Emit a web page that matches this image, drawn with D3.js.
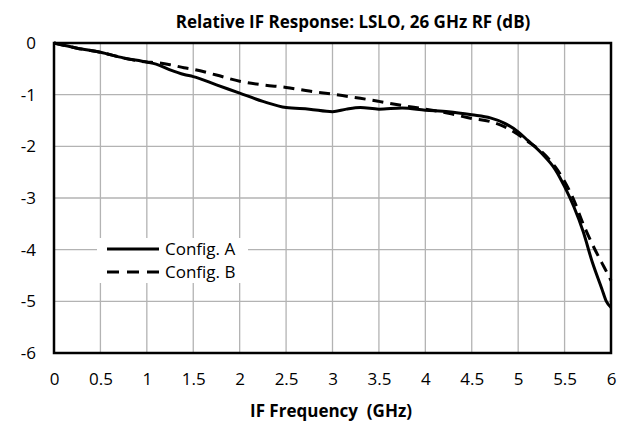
<!DOCTYPE html>
<html><head><meta charset="utf-8">
<script src="https://cdn.jsdelivr.net/npm/d3@7"></script>
<style>
html,body{margin:0;padding:0;background:#fff;}
text{font-family:"Open Sans",sans-serif;fill:#000;}
</style></head>
<body><svg id="c" width="621" height="423"></svg>
<script>
const freq = [0,0.25,0.5,0.75,1.0,1.1,1.25,1.4,1.5,1.75,2.0,2.25,2.5,2.75,3.0,3.15,3.3,3.5,3.75,4.0,4.25,4.5,4.7,4.85,5.0,5.1,5.25,5.4,5.5,5.6,5.7,5.8,5.9,5.95,6.0];
const configA = [0,-0.10,-0.18,-0.29,-0.37,-0.41,-0.52,-0.61,-0.65,-0.81,-0.97,-1.13,-1.25,-1.28,-1.33,-1.28,-1.25,-1.28,-1.26,-1.30,-1.33,-1.39,-1.45,-1.55,-1.72,-1.88,-2.13,-2.45,-2.78,-3.17,-3.65,-4.25,-4.75,-5.0,-5.12];
const configB = [0,-0.10,-0.18,-0.29,-0.37,-0.38,-0.42,-0.48,-0.51,-0.62,-0.74,-0.81,-0.86,-0.93,-0.99,-1.03,-1.07,-1.13,-1.21,-1.28,-1.36,-1.46,-1.52,-1.62,-1.77,-1.90,-2.10,-2.40,-2.68,-3.04,-3.5,-3.9,-4.25,-4.42,-4.6];
const xTicks = [0,0.5,1,1.5,2,2.5,3,3.5,4,4.5,5,5.5,6];
const yTicks = [0,-1,-2,-3,-4,-5,-6];
const seriesNames = ["Config. A","Config. B"];
const titleText = "Relative IF Response: LSLO, 26 GHz RF (dB)";
const xTitle = "IF Frequency  (GHz)";

const svg = d3.select("#c");
const L=54, R=611, T=43, B=353;
const x = d3.scaleLinear().domain([0,6]).range([L,R]);
const y = d3.scaleLinear().domain([-6,0]).range([B,T]);

// grid
svg.append("g").selectAll("line").data(xTicks.filter(d=>d>0&&d<6)).join("line")
  .attr("x1",d=>x(d)).attr("x2",d=>x(d)).attr("y1",T).attr("y2",B)
  .attr("stroke","#b3b3b3").attr("stroke-width",1.3);
svg.append("g").selectAll("line").data(yTicks.filter(d=>d>-6&&d<0)).join("line")
  .attr("x1",L).attr("x2",R).attr("y1",d=>y(d)).attr("y2",d=>y(d))
  .attr("stroke","#b3b3b3").attr("stroke-width",1.3);

const fmt = d => String(d);
const xAxis = svg.append("g").attr("transform",`translate(0,${B})`)
  .call(d3.axisBottom(x).tickValues(xTicks).tickSize(0).tickPadding(20).tickFormat(fmt));
xAxis.select(".domain").remove();
xAxis.selectAll("text").style("font-size","17px").attr("font-family",null);
const yAxis = svg.append("g").attr("transform",`translate(${L},0)`)
  .call(d3.axisLeft(y).tickValues(yTicks).tickSize(0).tickPadding(18).tickFormat(fmt));
yAxis.select(".domain").remove();
yAxis.selectAll("text").style("font-size","17px").attr("font-family",null);

// legend background
svg.append("rect").attr("x",97).attr("y",238).attr("width",151).attr("height",45).attr("fill","#fff");

const line = d3.line().x((d,i)=>x(freq[i])).y(d=>y(d)).curve(d3.curveMonotoneX);
svg.append("path").attr("d",line(configB)).attr("fill","none").attr("stroke","#000")
  .attr("stroke-width",3).attr("stroke-dasharray","11,7");
svg.append("path").attr("d",line(configA)).attr("fill","none").attr("stroke","#000")
  .attr("stroke-width",3);

// border
svg.append("rect").attr("x",L).attr("y",T).attr("width",R-L).attr("height",B-T)
  .attr("fill","none").attr("stroke","#000").attr("stroke-width",2.5);

// legend
const leg = svg.append("g");
seriesNames.forEach((n,i)=>{
  const yy = 249 + i*23;
  leg.append("line").attr("x1",107).attr("x2",159).attr("y1",yy).attr("y2",yy)
    .attr("stroke","#000").attr("stroke-width",3).attr("stroke-dasharray",i?"12,8":null);
  leg.append("text").attr("x",165).attr("y",yy).attr("dy","0.36em").style("font-size","17px").text(n);
});

svg.append("text").attr("x",353).attr("y",28).attr("text-anchor","middle")
  .style("font-size","17px").style("font-weight","bold").text(titleText);
svg.append("text").attr("x",331).attr("y",417).attr("text-anchor","middle")
  .style("font-size","17px").style("font-weight","bold").style("white-space","pre").text(xTitle);
</script></body></html>
